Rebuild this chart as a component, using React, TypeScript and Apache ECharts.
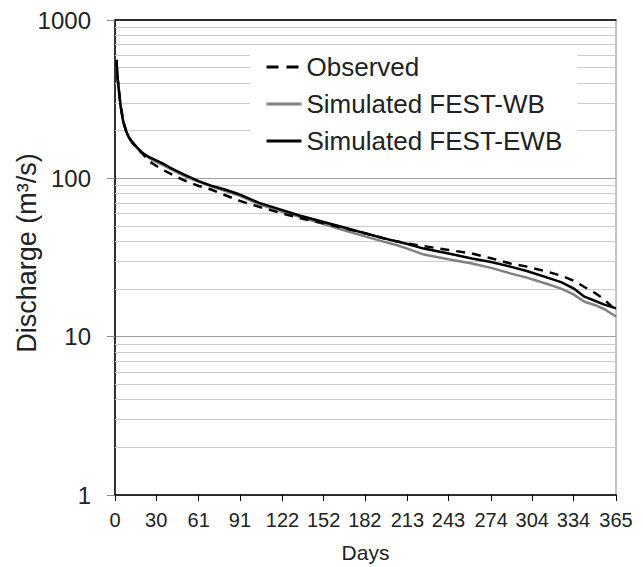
import React, { useEffect, useRef } from "react";
import * as echarts from "echarts";

const days = [1, 2, 4, 6, 8, 10, 13, 16, 20, 25, 30, 35, 40, 50, 61, 70, 80, 91, 105, 122, 135, 152, 165, 182, 195, 205, 213, 225, 243, 260, 274, 288, 300, 315, 325, 334, 342, 350, 356, 365];
const observed = [560, 420, 290, 228, 200, 182, 166, 155, 143, 128, 120, 113, 107.5, 97.5, 89.5, 85, 78.5, 72, 66, 60, 56, 52, 49, 45, 42, 40, 38.8, 37.3, 35.3, 33.5, 31.3, 29, 27.7, 25.7, 24.3, 22.6, 20.6, 18.8, 17.3, 14.7];
const simWB = [560, 420, 290, 228, 200, 182, 167, 156, 144, 134, 127, 121, 115, 104, 95, 89, 83.5, 77.5, 68.5, 61.5, 57, 51.5, 47.5, 43, 40, 37.9, 36, 33, 30.8, 29, 27.2, 25.1, 23.6, 21.5, 20.1, 18.5, 16.6, 15.8, 15, 13.4];
const simEWB = [560, 420, 290, 228, 200, 182, 168, 157, 145, 136, 130, 124, 117, 106, 96, 90, 85, 79, 70, 63, 58, 53, 49.5, 45, 42, 40, 38.5, 36, 33.5, 31.2, 29.6, 27.7, 26, 23.6, 22.1, 20.2, 17.9, 16.8, 16, 15.1];
const xTicks = [0, 30, 61, 91, 122, 152, 182, 213, 243, 274, 304, 334, 365];
const yMinorGrid = [2, 3, 4, 5, 6, 7, 8, 9, 20, 30, 40, 50, 60, 70, 80, 90, 200, 300, 400, 500, 600, 700, 800, 900];
const seriesNames = ["Observed", "Simulated FEST-WB", "Simulated FEST-EWB"];

const FONT = "'Liberation Sans', Arial, sans-serif";

export default function App() {
  const ref = useRef<HTMLDivElement>(null);
  useEffect(() => {
    if (!ref.current) return;
    const chart = echarts.init(ref.current, undefined, { renderer: "svg" });
    const pairs = (vals: number[]) => days.map((d, i) => [d, vals[i]]);
    chart.setOption({
      animation: false,
      backgroundColor: "#fff",
      textStyle: { fontFamily: FONT },
      grid: {
        left: 115,
        right: 27,
        top: 20,
        bottom: 72,
        show: true,
        borderColor: "#888",
        borderWidth: 1,
        containLabel: false,
        outerBoundsMode: "none",
      },
      legend: {
        data: [
          { name: seriesNames[0], lineStyle: { width: 3, type: [12, 8] } },
          { name: seriesNames[1], lineStyle: { width: 3 } },
          { name: seriesNames[2], lineStyle: { width: 3 } },
        ],
        orient: "vertical",
        left: 250,
        top: 46,
        width: 330,
        backgroundColor: "#fff",
        padding: [8, 15, 10, 15],
        itemWidth: 35,
        itemHeight: 14,
        itemGap: 11,
        itemStyle: { opacity: 0 },
        lineStyle: { width: 3 },
        textStyle: { fontSize: 26, color: "#222", fontFamily: FONT },
        z: 20,
      },
      xAxis: [
        {
          type: "value",
          min: 0,
          max: 365,
          name: "Days",
          nameLocation: "middle",
          nameGap: 47,
          nameMoveOverlap: false,
          nameTextStyle: { fontSize: 21, color: "#222", fontFamily: FONT },
          axisLine: { show: true, lineStyle: { color: "#000", width: 1.5 } },
          axisTick: { show: true, customValues: xTicks, length: 6, lineStyle: { color: "#000" } },
          axisLabel: { customValues: xTicks, fontSize: 20, color: "#222", margin: 15, fontFamily: FONT },
          splitLine: { show: false },
        },
        {
          type: "value",
          position: "top",
          min: 0,
          max: 365,
          axisLine: { show: true, lineStyle: { color: "#000", width: 1.5 } },
          axisTick: { show: false },
          axisLabel: { show: false },
          splitLine: { show: false },
        },
      ],
      yAxis: {
        type: "log",
        logBase: 10,
        min: 1,
        max: 1000,
        name: "Discharge (m³/s)",
        nameLocation: "middle",
        nameGap: 75,
        nameMoveOverlap: false,
        nameTextStyle: { fontSize: 27, color: "#222", fontFamily: FONT, padding: [0, 0, 0, 9] },
        axisLine: { show: true, lineStyle: { color: "#000", width: 1.5 } },
        axisTick: { show: true, length: 8, lineStyle: { color: "#888" } },
        axisLabel: { fontSize: 24, color: "#222", margin: 24, fontFamily: FONT, formatter: (v: number) => String(v) },
        splitLine: { show: true, lineStyle: { color: "#a0a0a0", width: 1 } },
        minorTick: { show: false },
        minorSplitLine: { show: false },
      },
      series: [
        {
          name: "grid-minor",
          type: "line",
          data: pairs(observed),
          symbol: "none",
          silent: true,
          lineStyle: { opacity: 0 },
          z: 1,
          markLine: {
            silent: true,
            z: 1,
            symbol: ["none", "none"],
            label: { show: false },
            lineStyle: { color: "#cccccc", width: 1, type: "solid" },
            data: yMinorGrid.map((v) => ({ yAxis: v })),
          },
        },
        {
          name: seriesNames[1],
          type: "line",
          data: pairs(simWB),
          symbol: "none",
          showSymbol: false,
          color: "#808080",
          lineStyle: { color: "#808080", width: 2.5 },
          z: 3,
        },
        {
          name: seriesNames[0],
          type: "line",
          data: pairs(observed),
          symbol: "none",
          showSymbol: false,
          color: "#000",
          lineStyle: { color: "#000", width: 2.5, type: [9, 7] },
          z: 4,
        },
        {
          name: seriesNames[2],
          type: "line",
          data: pairs(simEWB),
          symbol: "none",
          showSymbol: false,
          color: "#000",
          lineStyle: { color: "#000", width: 2.5 },
          z: 4,
        },
      ],
    });
    return () => chart.dispose();
  }, []);
  return <div ref={ref} style={{ width: 643, height: 567, position: "absolute", left: 0, top: 0 }} />;
}
